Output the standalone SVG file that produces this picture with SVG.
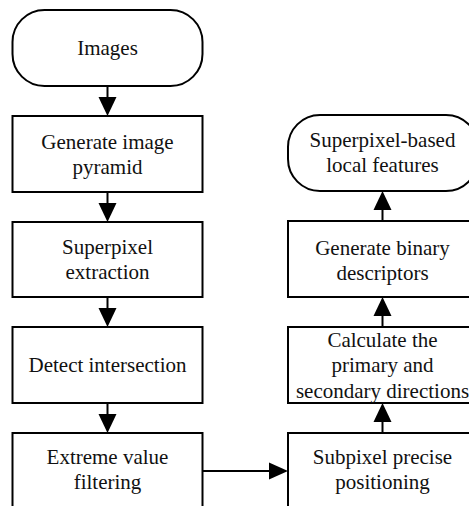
<svg xmlns="http://www.w3.org/2000/svg" width="469" height="506" viewBox="0 0 469 506">
<defs>
<style>
.shape{fill:#fff;stroke:#000;stroke-width:2}
.lbl{font-size:21px;text-anchor:middle;fill:#111}
.conn{fill:none;stroke:#000;stroke-width:2}
.head{fill:#000}
</style>
</defs>
<rect width="469" height="506" fill="#fff"/>
<g id="connectors">
<path class="conn" d="M107.5,86 V100"/><path class="head" d="M98.5,97 H116.5 L107.5,116 z"/>
<path class="conn" d="M107.5,192 V206"/><path class="head" d="M98.5,203 H116.5 L107.5,222 z"/>
<path class="conn" d="M107.5,297 V311"/><path class="head" d="M98.5,308 H116.5 L107.5,327 z"/>
<path class="conn" d="M107.5,403 V417"/><path class="head" d="M98.5,414 H116.5 L107.5,433 z"/>
<path class="conn" d="M203,471 H272"/><path class="head" d="M269,462.5 V479.5 L288,471 z"/>
<path class="conn" d="M382.5,433 V419"/><path class="head" d="M373.5,422 H391.5 L382.5,403 z"/>
<path class="conn" d="M382.5,327 V313"/><path class="head" d="M373.5,316 H391.5 L382.5,297 z"/>
<path class="conn" d="M382.5,221 V207"/><path class="head" d="M373.5,210 H391.5 L382.5,191 z"/>
</g>
<g font-family="Liberation Serif, DejaVu Serif, serif">
<g id="images">
<rect class="shape" x="12.5" y="10" width="190" height="76" rx="32" ry="32"/>
<text class="lbl" x="107.5" y="55">Images</text>
</g>
<g id="pyramid">
<rect class="shape" x="12.5" y="116" width="190" height="76"/>
<text class="lbl" x="107.5" y="149">Generate image</text>
<text class="lbl" x="107.5" y="174">pyramid</text>
</g>
<g id="superpixel">
<rect class="shape" x="12.5" y="222" width="190" height="75"/>
<text class="lbl" x="107.5" y="254">Superpixel</text>
<text class="lbl" x="107.5" y="279">extraction</text>
</g>
<g id="detect">
<rect class="shape" x="12.5" y="327" width="190" height="76"/>
<text class="lbl" x="107.5" y="372">Detect intersection</text>
</g>
<g id="extreme">
<rect class="shape" x="12.5" y="433" width="190" height="90"/>
<text class="lbl" x="107.5" y="464">Extreme value</text>
<text class="lbl" x="107.5" y="489">filtering</text>
</g>
<g id="subpixel">
<rect class="shape" x="288" y="433" width="190" height="90"/>
<text class="lbl" x="382.5" y="464">Subpixel precise</text>
<text class="lbl" x="382.5" y="489">positioning</text>
</g>
<g id="directions">
<rect class="shape" x="288" y="327" width="190" height="76"/>
<text class="lbl" x="382.5" y="347">Calculate the</text>
<text class="lbl" x="382.5" y="372">primary and</text>
<text class="lbl" x="382.5" y="398">secondary directions</text>
</g>
<g id="binary">
<rect class="shape" x="288" y="221" width="190" height="76"/>
<text class="lbl" x="382.5" y="255">Generate binary</text>
<text class="lbl" x="382.5" y="280">descriptors</text>
</g>
<g id="features">
<rect class="shape" x="288" y="115" width="190" height="76" rx="32" ry="32"/>
<text class="lbl" x="382.5" y="147">Superpixel-based</text>
<text class="lbl" x="382.5" y="172">local features</text>
</g>
</g>
</svg>
